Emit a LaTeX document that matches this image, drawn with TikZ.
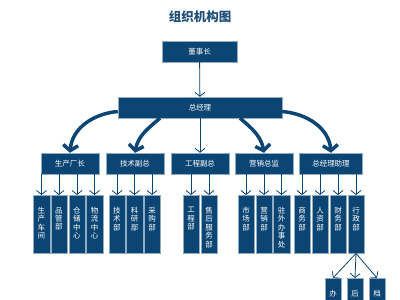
\documentclass[tikz,border=0pt]{standalone}
\usepackage{fontspec}
\setmainfont{Noto Sans CJK SC}
\usepackage{xcolor}
\usetikzlibrary{arrows.meta, positioning}
\definecolor{orgblue}{HTML}{0B4574}
\definecolor{titleblue}{HTML}{1F4E79}

\begin{document}
\begin{tikzpicture}[x=1pt, y=1pt,
    box/.style={fill=orgblue, draw=orgblue!45!white, line width=0.4pt, text=white, inner sep=0pt, font=\fontsize{7.5}{9}\selectfont},
    hbox/.style={box, minimum width=58pt, minimum height=21pt},
    vbox/.style={box, minimum width=16.5pt, minimum height=58pt, anchor=north},
    vtext/.style={text=white, inner sep=0pt, align=center, font=\fontsize{7.5}{8.4}\selectfont},
    link/.style={draw=orgblue, line width=0.8pt, -{Straight Barb[length=4pt, width=10pt]}},
    sweep/.style={draw=orgblue, line width=3.5pt, -{Straight Barb[length=5.5pt, width=15pt]}}]
    \useasboundingbox (0,0) rectangle (400,-300);
    \clip (0,0) rectangle (400,-300);

    % Title
    \node[text=titleblue, font=\fontsize{12.5}{14}\selectfont\bfseries] (title) at (200,-17) {组织机构图};

    % Top: chairman and general manager
    \node[box, minimum width=75pt, minimum height=21pt] (chair) at (199.5,-51.5) {董事长};
    \node[box, minimum width=164pt, minimum height=21pt] (gm) at (200,-107.5) {总经理};
    \draw[link] (chair) -- (gm);

    % Level 2
    \node[hbox] (prod) at (70,-163.5) {生产厂长};
    \node[hbox] (tech) at (135,-163.5) {技术副总};
    \node[hbox] (eng) at (200,-163.5) {工程副总};
    \node[hbox] (sales) at (264,-163.5) {营销总监};
    \node[hbox, minimum width=63pt] (asst) at (331,-163.5) {总经理助理};
    \draw[sweep] ([yshift=-4pt]gm.west) to[out=185,in=85] (prod.north);
    \draw[sweep] ([xshift=-40pt]gm.south) to[out=220,in=80] (tech.north);
    \draw[link] (gm) -- (eng);
    \draw[sweep] ([xshift=40pt]gm.south) to[out=-40,in=100] (sales.north);
    \draw[sweep] ([yshift=-4pt]gm.east) to[out=-5,in=95] (asst.north);

    % Level 3: production
    \node[vbox] (prod1) at (41.5,-195) {}; \node[vtext, below=12pt of prod1.north] (prod1t) {生\\产\\车\\间};
    \node[vbox] (prod2) at (59,-195) {}; \node[vtext, below=12pt of prod2.north] (prod2t) {品\\管\\部};
    \node[vbox] (prod3) at (77,-195) {}; \node[vtext, below=12pt of prod3.north] (prod3t) {仓\\储\\中\\心};
    \node[vbox] (prod4) at (94.5,-195) {}; \node[vtext, below=12pt of prod4.north] (prod4t) {物\\流\\中\\心};
    \draw[link] (prod1.north |- prod.south) -- (prod1.north);
    \draw[link] (prod2.north |- prod.south) -- (prod2.north);
    \draw[link] (prod3.north |- prod.south) -- (prod3.north);
    \draw[link] (prod4.north |- prod.south) -- (prod4.north);

    % Level 3: technology
    \node[vbox] (tech1) at (117,-195) {}; \node[vtext, below=12pt of tech1.north] (tech1t) {技\\术\\部};
    \node[vbox] (tech2) at (134.5,-195) {}; \node[vtext, below=12pt of tech2.north] (tech2t) {科\\研\\部};
    \node[vbox] (tech3) at (152,-195) {}; \node[vtext, below=12pt of tech3.north] (tech3t) {采\\购\\部};
    \draw[link] (tech1.north |- tech.south) -- (tech1.north);
    \draw[link] (tech2.north |- tech.south) -- (tech2.north);
    \draw[link] (tech3.north |- tech.south) -- (tech3.north);

    % Level 3: engineering
    \node[vbox] (eng1) at (191,-195) {}; \node[vtext, below=12pt of eng1.north] (eng1t) {工\\程\\部};
    \node[vbox] (eng2) at (209,-195) {}; \node[vtext, below=12pt of eng2.north] (eng2t) {售\\后\\服\\务\\部};
    \draw[link] (eng1.north |- eng.south) -- (eng1.north);
    \draw[link] (eng2.north |- eng.south) -- (eng2.north);

    % Level 3: sales
    \node[vbox] (sales1) at (246,-195) {}; \node[vtext, below=12pt of sales1.north] (sales1t) {市\\场\\部};
    \node[vbox] (sales2) at (264,-195) {}; \node[vtext, below=12pt of sales2.north] (sales2t) {营\\销\\部};
    \node[vbox] (sales3) at (281.5,-195) {}; \node[vtext, below=12pt of sales3.north] (sales3t) {驻\\外\\办\\事\\处};
    \draw[link] (sales1.north |- sales.south) -- (sales1.north);
    \draw[link] (sales2.north |- sales.south) -- (sales2.north);
    \draw[link] (sales3.north |- sales.south) -- (sales3.north);

    % Level 3: assistant
    \node[vbox] (asst1) at (302,-195) {}; \node[vtext, below=12pt of asst1.north] (asst1t) {商\\务\\部};
    \node[vbox] (asst2) at (320,-195) {}; \node[vtext, below=12pt of asst2.north] (asst2t) {人\\资\\部};
    \node[vbox] (asst3) at (338,-195) {}; \node[vtext, below=12pt of asst3.north] (asst3t) {财\\务\\部};
    \node[vbox] (admin) at (356,-195) {}; \node[vtext, below=12pt of admin.north] (admint) {行\\政\\部};
    \draw[link] (asst1.north |- asst.south) -- (asst1.north);
    \draw[link] (asst2.north |- asst.south) -- (asst2.north);
    \draw[link] (asst3.north |- asst.south) -- (asst3.north);
    \draw[link] (admin.north |- asst.south) -- (admin.north);

    % Level 4: under admin (cut off at the bottom)
    \node[vbox] (admin1) at (333,-278) {}; \node[vtext, below=12pt of admin1.north] (admin1t) {办};
    \node[vbox] (admin2) at (355,-278) {}; \node[vtext, below=12pt of admin2.north] (admin2t) {后};
    \node[vbox] (admin3) at (377,-278) {}; \node[vtext, below=12pt of admin3.north] (admin3t) {档};
    \draw[link] (admin.south) -- (admin1.north);
    \draw[link] (admin.south) -- (admin2.north);
    \draw[link] (admin.south) -- (admin3.north);
\end{tikzpicture}
\end{document}
